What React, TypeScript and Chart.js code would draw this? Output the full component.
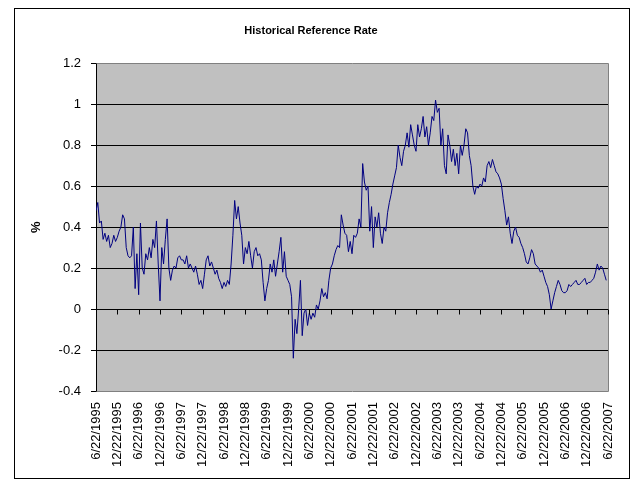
import React, { useEffect, useRef } from "react";
import { Chart, registerables } from "chart.js";

Chart.register(...registerables);

// X-axis tick labels, one every 6 months
const tickLabels = [
  "6/22/1995", "12/22/1995", "6/22/1996", "12/22/1996", "6/22/1997", "12/22/1997",
  "6/22/1998", "12/22/1998", "6/22/1999", "12/22/1999", "6/22/2000", "12/22/2000",
  "6/22/2001", "12/22/2001", "6/22/2002", "12/22/2002", "6/22/2003", "12/22/2003",
  "6/22/2004", "12/22/2004", "6/22/2005", "12/22/2005", "6/22/2006", "12/22/2006",
  "6/22/2007",
];

const yTickValues = [-0.4, -0.2, 0, 0.2, 0.4, 0.6, 0.8, 1.0, 1.2];

// Rate readings, one every half month, starting 22 June of each year
const rate1995 = [0.48, 0.52, 0.42, 0.43, 0.34, 0.37, 0.33, 0.36, 0.30, 0.32, 0.36, 0.33, 0.35, 0.38, 0.40, 0.46, 0.44, 0.30, 0.26, 0.25, 0.26, 0.40, 0.10, 0.27];
const rate1996 = [0.07, 0.42, 0.20, 0.17, 0.27, 0.24, 0.30, 0.25, 0.34, 0.30, 0.43, 0.22, 0.04, 0.30, 0.22, 0.34, 0.44, 0.20, 0.14, 0.19, 0.21, 0.20, 0.25, 0.26];
const rate1997 = [0.24, 0.24, 0.22, 0.26, 0.20, 0.22, 0.20, 0.18, 0.21, 0.17, 0.12, 0.14, 0.10, 0.17, 0.24, 0.26, 0.21, 0.23, 0.20, 0.17, 0.19, 0.15, 0.13, 0.10];
const rate1998 = [0.13, 0.11, 0.14, 0.12, 0.22, 0.36, 0.53, 0.44, 0.50, 0.42, 0.36, 0.22, 0.30, 0.27, 0.33, 0.26, 0.20, 0.28, 0.30, 0.26, 0.27, 0.24, 0.13, 0.04];
const rate1999 = [0.10, 0.14, 0.22, 0.18, 0.24, 0.16, 0.22, 0.28, 0.35, 0.18, 0.28, 0.16, 0.14, 0.12, 0.06, -0.24, -0.05, -0.12, 0.00, 0.14, -0.13, -0.02, 0.00, -0.08];
const rate2000 = [-0.02, -0.05, -0.02, -0.04, 0.02, 0.00, 0.04, 0.10, 0.06, 0.08, 0.05, 0.14, 0.20, 0.22, 0.26, 0.29, 0.31, 0.30, 0.46, 0.41, 0.37, 0.36, 0.28, 0.33];
const rate2001 = [0.27, 0.36, 0.35, 0.37, 0.44, 0.40, 0.71, 0.62, 0.58, 0.60, 0.38, 0.50, 0.30, 0.45, 0.40, 0.47, 0.37, 0.32, 0.40, 0.38, 0.47, 0.52, 0.56, 0.61];
const rate2002 = [0.65, 0.69, 0.80, 0.74, 0.70, 0.77, 0.80, 0.86, 0.79, 0.90, 0.85, 0.80, 0.77, 0.90, 0.84, 0.88, 0.94, 0.84, 0.89, 0.80, 0.86, 0.94, 0.92, 1.02];
const rate2003 = [0.96, 0.98, 0.80, 0.88, 0.70, 0.66, 0.85, 0.80, 0.72, 0.78, 0.70, 0.76, 0.66, 0.80, 0.75, 0.80, 0.88, 0.86, 0.75, 0.70, 0.60, 0.56, 0.60, 0.59];
const rate2004 = [0.61, 0.60, 0.64, 0.62, 0.70, 0.72, 0.69, 0.73, 0.70, 0.67, 0.66, 0.64, 0.61, 0.54, 0.48, 0.41, 0.45, 0.37, 0.32, 0.38, 0.40, 0.36, 0.35, 0.32];
const rate2005 = [0.30, 0.27, 0.23, 0.22, 0.25, 0.29, 0.27, 0.22, 0.21, 0.20, 0.18, 0.19, 0.16, 0.13, 0.11, 0.07, 0.00, 0.04, 0.08, 0.11, 0.14, 0.12, 0.09, 0.08];
const rate2006 = [0.08, 0.09, 0.12, 0.11, 0.12, 0.13, 0.14, 0.12, 0.12, 0.13, 0.14, 0.15, 0.12, 0.13, 0.13, 0.14, 0.15, 0.18, 0.22, 0.19, 0.21, 0.20, 0.17, 0.14];

const yearlyRates = [rate1995, rate1996, rate1997, rate1998, rate1999, rate2000, rate2001, rate2002, rate2003, rate2004, rate2005, rate2006];
const monthsPerReading = 0.5;

const FONT = '"Liberation Sans", Arial, sans-serif';

const align = (v: number) => Math.round(v) + 0.5;

const framePlugin = {
  id: "frame",
  beforeDraw(chart: any) {
    const { ctx, chartArea: a } = chart;
    ctx.save();
    ctx.fillStyle = "#ffffff";
    ctx.fillRect(0, 0, chart.width, chart.height);
    ctx.strokeStyle = "#000000";
    ctx.lineWidth = 1;
    ctx.strokeRect(14.5, 8.5, 615, 470);
    ctx.fillStyle = "#c0c0c0";
    ctx.fillRect(a.left, a.top, a.right - a.left, a.bottom - a.top);
    ctx.restore();
  },
  afterDraw(chart: any) {
    const { ctx, chartArea: a, scales } = chart;
    ctx.save();
    ctx.lineWidth = 1;
    ctx.strokeStyle = "#808080";
    ctx.beginPath();
    ctx.moveTo(align(a.left), align(a.top));
    ctx.lineTo(align(a.right), align(a.top));
    ctx.lineTo(align(a.right), align(a.bottom));
    ctx.lineTo(align(a.left), align(a.bottom));
    ctx.stroke();
    // tick marks hanging below the zero line
    const y0 = align(scales.y.getPixelForValue(0));
    ctx.strokeStyle = "#000000";
    ctx.beginPath();
    for (let i = 1; i < tickLabels.length; i++) {
      const px = align(scales.x.getPixelForValue(i * 6));
      ctx.moveTo(px, y0);
      ctx.lineTo(px, y0 + 5);
    }
    ctx.stroke();
    ctx.restore();
  },
};

export default function App() {
  const canvasRef = useRef<HTMLCanvasElement | null>(null);

  useEffect(() => {
    const canvas = canvasRef.current;
    if (!canvas) return;
    const points: { x: number; y: number }[] = [];
    yearlyRates.forEach((arr, yi) => {
      arr.forEach((v, i) => {
        points.push({ x: yi * 12 + i * monthsPerReading, y: v });
      });
    });

    const isEdge = (v: number) => Math.abs(v - 1.2) < 1e-6 || Math.abs(v + 0.4) < 1e-6;

    const chart = new Chart(canvas, {
      type: "line",
      data: {
        datasets: [
          {
            label: "Rate",
            data: points,
            borderColor: "#000080",
            borderWidth: 1,
            pointRadius: 0,
            tension: 0,
            fill: false,
            borderJoinStyle: "round",
          },
        ],
      },
      options: {
        responsive: false,
        animation: false,
        devicePixelRatio: 1,
        layout: { padding: { left: 14, right: 36, top: 8, bottom: 0 } },
        plugins: {
          legend: { display: false },
          tooltip: { enabled: false },
          title: {
            display: true,
            text: "Historical Reference Rate",
            color: "#000000",
            font: { family: FONT, size: 11, weight: "bold" },
            padding: { top: 16, bottom: 26 },
          },
        },
        scales: {
          x: {
            type: "linear",
            min: 0,
            max: 144,
            afterBuildTicks: (s: any) => {
              s.ticks = tickLabels.map((_, i) => ({ value: i * 6 }));
            },
            afterFit: (s: any) => {
              s.height = 96;
            },
            ticks: {
              autoSkip: false,
              minRotation: 90,
              maxRotation: 90,
              padding: 11,
              color: "#000000",
              font: { family: FONT, size: 13 },
              callback: (v: any) => tickLabels[Math.round(Number(v) / 6)] ?? "",
            },
            grid: { display: false, drawTicks: false },
            border: { display: false },
          },
          y: {
            type: "linear",
            min: -0.4,
            max: 1.2,
            afterBuildTicks: (s: any) => {
              s.ticks = yTickValues.map((v) => ({ value: v }));
            },
            afterFit: (s: any) => {
              s.width = 82;
            },
            ticks: {
              padding: 10,
              color: "#000000",
              font: { family: FONT, size: 13 },
              callback: (v: any) => String(Math.round(Number(v) * 10) / 10),
            },
            grid: {
              color: (ctx: any) => (ctx.tick && isEdge(ctx.tick.value) ? "rgba(0,0,0,0)" : "#000000"),
              tickColor: "#000000",
              tickLength: 5,
              drawTicks: true,
              lineWidth: 1,
            },
            border: { display: true, color: "#000000", width: 1 },
            title: {
              display: true,
              text: "%",
              color: "#000000",
              font: { family: FONT, size: 13, weight: "bold" },
              padding: { top: 15, bottom: 0 },
            },
          },
        },
      },
      plugins: [framePlugin],
    } as any);

    return () => chart.destroy();
  }, []);

  return (
    <div style={{ position: "absolute", left: 0, top: 0, width: 644, height: 487 }}>
      <canvas ref={canvasRef} width={644} height={487} style={{ display: "block" }} />
    </div>
  );
}
